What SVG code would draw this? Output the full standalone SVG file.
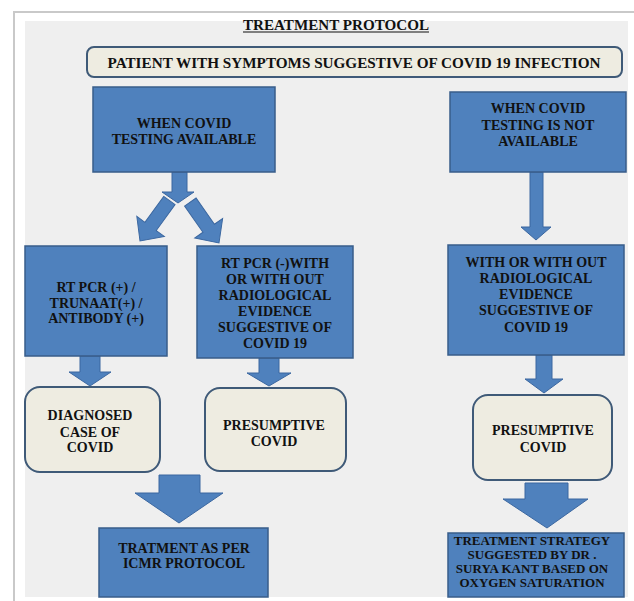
<svg xmlns="http://www.w3.org/2000/svg" width="634" height="601" viewBox="0 0 634 601">
<defs>
<style>
.t{font-family:"Liberation Serif","Times New Roman",serif;font-weight:bold;font-size:14px;fill:#111;text-anchor:middle}
.s{font-size:13px}
.blue{fill:#4f81bd;stroke:#385d8a;stroke-width:1.5}
.rnd{fill:#eeece1;stroke:#3f5a78;stroke-width:2}
.arr{fill:#4f81bd;stroke:#3b67a0;stroke-width:1}
</style>
<path id="dg" d="M -7,-50 L 7,-50 L 7,-18 L 17,-18 L 0,0 L -17,-18 L -7,-18 Z"/>
</defs>
<rect x="0" y="0" width="634" height="601" fill="#ffffff"/>
<path d="M14,601 V12 H634" fill="none" stroke="#c9c9c9" stroke-width="2"/>
<rect x="25" y="21" width="603" height="576" fill="#efefef"/>

<g id="title">
<text class="t" x="336" y="30" font-size="13" textLength="186" lengthAdjust="spacingAndGlyphs">TREATMENT PROTOCOL</text>
<line x1="243" y1="32" x2="429" y2="32" stroke="#111" stroke-width="1.2"/>
</g>

<g id="connectors">
<path class="arr" d="M172,172 H187 V192 H194 L178,203 L162,192 H172 Z"/>
<use href="#dg" class="arr" transform="translate(140,241) rotate(36)"/>
<use href="#dg" class="arr" transform="translate(219,243) rotate(-35)"/>
<path class="arr" d="M530,172 H543 V227 H551 L536,240 L521,227 H530 Z"/>
<path class="arr" d="M80,356 H100 V372 H111 L90,386 L69,372 H80 Z"/>
<path class="arr" d="M259,358 H279 V373 H291 L269,386 L247,373 H259 Z"/>
<path class="arr" d="M536,355 H552 V379 H563 L544,393 L525,379 H536 Z"/>
<path class="arr" d="M159,475 H200 V493 H223 L179,523 L135,493 H159 Z"/>
<path class="arr" d="M525,483 H568 V499 H588 L547,528 L503,499 H525 Z"/>
</g>

<g id="patient">
<rect class="rnd" x="87" y="47" width="535" height="30" rx="7"/>
<text class="t" x="354" y="68" textLength="493" lengthAdjust="spacingAndGlyphs">PATIENT WITH SYMPTOMS SUGGESTIVE  OF COVID 19 INFECTION</text>
</g>

<g id="testing-available">
<rect class="blue" x="93" y="87" width="182" height="85"/>
<text class="t" x="184" y="128">WHEN COVID</text>
<text class="t" x="184" y="144">TESTING AVAILABLE</text>
</g>

<g id="testing-not-available">
<rect class="blue" x="450" y="92" width="176" height="80"/>
<text class="t" x="538" y="113">WHEN COVID</text>
<text class="t" x="538" y="130">TESTING IS NOT</text>
<text class="t" x="538" y="146">AVAILABLE</text>
</g>

<g id="rtpcr-positive">
<rect class="blue" x="25" y="246" width="142" height="110"/>
<text class="t" x="96" y="292">RT PCR (+) /</text>
<text class="t" x="96" y="308">TRUNAAT(+) /</text>
<text class="t" x="96" y="323">ANTIBODY (+)</text>
</g>

<g id="rtpcr-negative">
<rect class="blue" x="197" y="246" width="156" height="112"/>
<text class="t" x="275" y="268">RT PCR (-)WITH</text>
<text class="t" x="275" y="284">OR WITH OUT</text>
<text class="t" x="275" y="300">RADIOLOGICAL</text>
<text class="t" x="275" y="316">EVIDENCE</text>
<text class="t" x="275" y="332">SUGGESTIVE  OF</text>
<text class="t" x="275" y="348">COVID 19</text>
</g>

<g id="radiological">
<rect class="blue" x="448" y="245" width="176" height="110"/>
<text class="t" x="536" y="267">WITH OR WITH OUT</text>
<text class="t" x="536" y="283">RADIOLOGICAL</text>
<text class="t" x="536" y="299">EVIDENCE</text>
<text class="t" x="536" y="315">SUGGESTIVE  OF</text>
<text class="t" x="536" y="332">COVID 19</text>
</g>

<g id="diagnosed">
<rect class="rnd" x="25" y="387" width="135" height="85" rx="15"/>
<text class="t" x="90" y="420">DIAGNOSED</text>
<text class="t" x="90" y="437">CASE OF</text>
<text class="t" x="90" y="452">COVID</text>
</g>

<g id="presumptive-1">
<rect class="rnd" x="205" y="388" width="141" height="83" rx="15"/>
<text class="t" x="274" y="430">PRESUMPTIVE</text>
<text class="t" x="274" y="446">COVID</text>
</g>

<g id="presumptive-2">
<rect class="rnd" x="473" y="395" width="139" height="85" rx="15"/>
<text class="t" x="543" y="435">PRESUMPTIVE</text>
<text class="t" x="543" y="452">COVID</text>
</g>

<g id="icmr">
<rect class="blue" x="99" y="528" width="169" height="69"/>
<text class="t" x="184" y="553">TRATMENT AS PER</text>
<text class="t" x="184" y="568">ICMR PROTOCOL</text>
</g>

<g id="strategy">
<rect class="blue" x="448" y="533" width="176" height="64"/>
<text class="t s" x="532" y="545">TREATMENT STRATEGY</text>
<text class="t s" x="532" y="559">SUGGESTED BY DR .</text>
<text class="t s" x="532" y="573">SURYA KANT BASED ON</text>
<text class="t s" x="532" y="587">OXYGEN SATURATION</text>
</g>
</svg>
